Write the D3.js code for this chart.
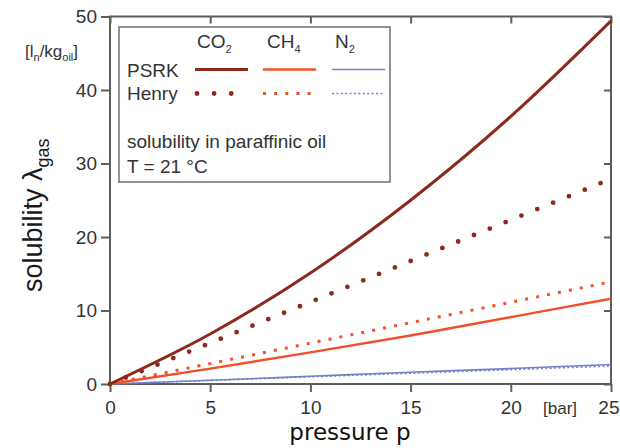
<!DOCTYPE html>
<html>
<head>
<meta charset="utf-8">
<script src="https://cdn.jsdelivr.net/npm/d3@7"></script>
<style>
  html, body { margin: 0; padding: 0; background: #fff; }
  svg { display: block; }
  text { font-family: "Liberation Sans", Arial, Helvetica, sans-serif; }
</style>
</head>
<body>
<script>
// Solubility of gases in paraffinic oil at 21 °C (PSRK model vs. Henry's law)
const pressure = [0, 5, 10, 15, 20, 25];            // bar
const co2Psrk = [0, 6.8, 15.1, 25.0, 36.4, 49.4];  // l_n/kg_oil
const ch4Psrk = [0, 2.1, 4.3, 6.6, 9.1, 11.6];
const n2Psrk  = [0, 0.5, 1.05, 1.6, 2.1, 2.65];

const henryPressure = [0, 25];
const co2Henry = [0, 27.9];
const ch4Henry = [0, 13.9];
const n2Henry  = [0, 2.45];

const xTicks = [0, 5, 10, 15, 20, 25];
const yTicks = [0, 10, 20, 30, 40, 50];

const gases = ["CO2", "CH4", "N2"];
const colors = { CO2: "#8b2a1c", CH4: "#f0502c", N2: "#7480c8" };

const W = 620, H = 448;
const m = { left: 110, right: 611, top: 16.5, bottom: 384 };

const svg = d3.select("body").append("svg").attr("width", W).attr("height", H);

const x = d3.scaleLinear().domain([0, 25]).range([m.left, m.right]);
const y = d3.scaleLinear().domain([0, 50]).range([m.bottom, m.top]);

const axisColor = "#5e5e5e";
const labelColor = "#333";

// ticks: left (outward with labels), right (inward), top (inward), bottom (outward with labels)
const gl = svg.append("g").attr("transform", `translate(${m.left},0)`)
  .call(d3.axisLeft(y).tickValues(yTicks).tickSize(9).tickPadding(4));
const gr = svg.append("g").attr("transform", `translate(${m.right},0)`)
  .call(d3.axisLeft(y).tickValues(yTicks).tickSize(7).tickFormat(""));
const gt = svg.append("g").attr("transform", `translate(0,${m.top})`)
  .call(d3.axisBottom(x).tickValues(xTicks).tickSize(7).tickFormat(""));
const gb = svg.append("g").attr("transform", `translate(0,${m.bottom})`)
  .call(d3.axisBottom(x).tickValues(xTicks).tickSize(8).tickPadding(9));

[gl, gr, gt, gb].forEach(g => {
  g.select(".domain").remove();
  g.selectAll(".tick line").attr("stroke", axisColor).attr("stroke-width", 2);
  g.selectAll(".tick text")
    .attr("fill", labelColor)
    .style("font-family", "'Liberation Sans', Arial, sans-serif")
    .style("font-size", "19px");
});

// the last x label sits at the right edge of the window
gb.selectAll(".tick text").filter(d => d === 25)
  .attr("text-anchor", "end").attr("x", 619 - m.right + 0);

// frame
svg.append("rect")
  .attr("x", m.left).attr("y", m.top)
  .attr("width", m.right - m.left).attr("height", m.bottom - m.top)
  .attr("fill", "none").attr("stroke", axisColor).attr("stroke-width", 2);

// axis titles
svg.append("text")
  .attr("x", 543).attr("y", 414)
  .attr("fill", labelColor)
  .style("font-size", "17px")
  .text("[bar]");

svg.append("text")
  .attr("x", 350).attr("y", 440)
  .attr("text-anchor", "middle")
  .attr("fill", "#111")
  .style("font-family", "'DejaVu Sans', Verdana, sans-serif")
  .style("font-size", "23px")
  .text("pressure p");

const yt = svg.append("text")
  .attr("transform", "translate(42,292) rotate(-90)")
  .attr("fill", "#1a1a1a")
  .style("font-size", "27px");
yt.append("tspan").text("solubility λ");
yt.append("tspan").attr("dy", 7).style("font-size", "18px").text("gas");

const unit = svg.append("text")
  .attr("x", 25).attr("y", 57)
  .attr("fill", labelColor)
  .style("font-size", "17px");
unit.append("tspan").text("[l");
unit.append("tspan").attr("dy", 4).style("font-size", "11px").text("n");
unit.append("tspan").attr("dy", -4).text("/kg");
unit.append("tspan").attr("dy", 4).style("font-size", "11px").text("oil");
unit.append("tspan").attr("dy", -4).text("]");

// legend box
const lg = svg.append("g");
lg.append("rect")
  .attr("x", 119).attr("y", 27).attr("width", 271).attr("height", 155)
  .attr("fill", "#fff").attr("stroke", "#777").attr("stroke-width", 1.6);

// line styles
const styles = {
  psrk: {
    CO2: { w: 3, dash: null, cap: "butt" },
    CH4: { w: 2.4, dash: null, cap: "butt" },
    N2:  { w: 1.6, dash: null, cap: "butt" }
  },
  henry: {
    CO2: { w: 4.8, dash: "0,17.1", cap: "round" },
    CH4: { w: 3, dash: "3,8.15", cap: "butt" },
    N2:  { w: 1.6, dash: "2,2.4", cap: "butt" }
  }
};

function applyStyle(sel, gas, st) {
  sel.attr("fill", "none")
    .attr("stroke", colors[gas])
    .attr("stroke-width", st.w)
    .attr("stroke-linecap", st.cap);
  if (st.dash) sel.attr("stroke-dasharray", st.dash);
  return sel;
}

// legend entries
const legendX = { CO2: 195, CH4: 263, N2: 332 };
const legendLabelX = { CO2: 197, CH4: 267, N2: 335 };
const subs = { CO2: ["CO", "2"], CH4: ["CH", "4"], N2: ["N", "2"] };
gases.forEach(gs => {
  const t = lg.append("text").attr("x", legendLabelX[gs]).attr("y", 48)
    .attr("fill", labelColor).style("font-size", "19px");
  t.append("tspan").text(subs[gs][0]);
  t.append("tspan").attr("dy", 5).style("font-size", "11px").text(subs[gs][1]);

  applyStyle(lg.append("line")
    .attr("x1", legendX[gs]).attr("x2", legendX[gs] + 53)
    .attr("y1", 69.5).attr("y2", 69.5), gs, styles.psrk[gs]);
  applyStyle(lg.append("line")
    .attr("x1", legendX[gs] + (gs === "CO2" ? 2 : 0)).attr("x2", legendX[gs] + 53)
    .attr("y1", 93.5).attr("y2", 93.5), gs, styles.henry[gs]);
});

lg.append("text").attr("x", 127).attr("y", 77).attr("fill", labelColor)
  .style("font-size", "19px").text("PSRK");
lg.append("text").attr("x", 127).attr("y", 100).attr("fill", labelColor)
  .style("font-size", "19px").text("Henry");
lg.append("text").attr("x", 127).attr("y", 148).attr("fill", labelColor)
  .style("font-size", "19px").text("solubility in paraffinic oil");
lg.append("text").attr("x", 127).attr("y", 173).attr("fill", labelColor)
  .style("font-size", "19px").text("T = 21 °C");

// curves
const curve = d3.line().x(d => x(d[0])).y(d => y(d[1])).curve(d3.curveMonotoneX);
const straight = d3.line().x(d => x(d[0])).y(d => y(d[1]));

const henrySeries = { N2: n2Henry, CH4: ch4Henry, CO2: co2Henry };
const psrkSeries = { N2: n2Psrk, CH4: ch4Psrk, CO2: co2Psrk };

const plot = svg.append("g");
["N2", "CH4", "CO2"].forEach(gs => {
  applyStyle(plot.append("path")
    .attr("d", straight(d3.zip(henryPressure, henrySeries[gs]))), gs, styles.henry[gs]);
  applyStyle(plot.append("path")
    .attr("d", curve(d3.zip(pressure, psrkSeries[gs]))), gs, styles.psrk[gs]);
});
</script>
</body>
</html>
